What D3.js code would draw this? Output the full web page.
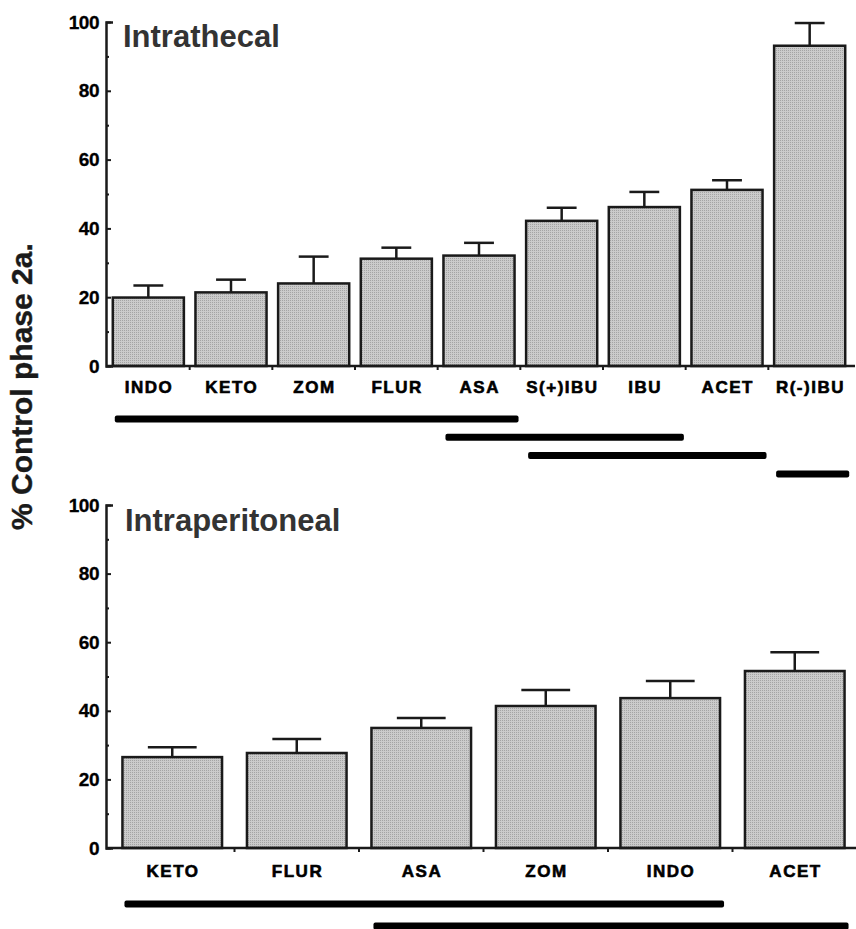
<!DOCTYPE html>
<html>
<head>
<meta charset="utf-8">
<script src="https://cdn.jsdelivr.net/npm/d3@7"></script>
<style>
  body { margin: 0; background: #fff; }
  text { font-family: "Liberation Sans", Arial, sans-serif; font-weight: bold; }
</style>
</head>
<body>
<div id="chart"></div>
<script>
// Intrathecal panel: mean % of control (phase 2a) and upper SEM
var itDrugs = ["INDO", "KETO", "ZOM", "FLUR", "ASA", "S(+)IBU", "IBU", "ACET", "R(-)IBU"];
var itMean = [19.9, 21.4, 24.0, 31.2, 32.1, 42.2, 46.2, 51.2, 93.1];
var itSem = [3.5, 3.7, 7.8, 3.2, 3.7, 3.8, 4.4, 2.8, 6.6];
// groups that do not differ: first drug -> last drug (one row each)
var itGroupStart = ["INDO", "ASA", "S(+)IBU", "R(-)IBU"];
var itGroupEnd = ["ASA", "IBU", "ACET", "R(-)IBU"];

// Intraperitoneal panel
var ipDrugs = ["KETO", "FLUR", "ASA", "ZOM", "INDO", "ACET"];
var ipMean = [26.5, 27.7, 35.0, 41.4, 43.7, 51.6];
var ipSem = [2.9, 4.1, 2.9, 4.7, 5.0, 5.5];
var ipGroupStart = ["KETO", "ASA"];
var ipGroupEnd = ["INDO", "ACET"];

var yTicks = [0, 20, 40, 60, 80, 100];
var yMinorTicks = [10, 30, 50, 70, 90];

var fullWidth = 856;
var fullHeight = 929;
var ink = "#1a1a1a";

var svg = d3.select("#chart")
  .append("svg")
  .attr("width", fullWidth)
  .attr("height", fullHeight);

// stippled grey fill like the printed bars
var defs = svg.append("defs");
var pat = defs.append("pattern")
  .attr("id", "stipple")
  .attr("width", 2)
  .attr("height", 2)
  .attr("patternUnits", "userSpaceOnUse");
pat.append("rect").attr("width", 2).attr("height", 2).attr("fill", "#cbcbcb");
pat.append("rect").attr("width", 1).attr("height", 1).attr("fill", "#a4a4a4");

// y axis title
svg.append("text")
  .attr("transform", "translate(32,530) rotate(-90)")
  .attr("font-size", 30)
  .attr("fill", ink)
  .attr("stroke", ink)
  .attr("stroke-width", 0.4)
  .text("% Control phase 2a.");

function drawPanel(cfg, drugs, mean, sem, gStart, gEnd) {
  var g = svg.append("g");

  var x = d3.scaleBand()
    .domain(drugs)
    .range(cfg.xRange)
    .paddingInner(cfg.padInner)
    .paddingOuter(cfg.padOuter);

  var y = d3.scaleLinear()
    .domain([0, 100])
    .range(cfg.yRange);

  // bars
  g.selectAll(".bar")
    .data(drugs)
    .enter()
    .append("rect")
      .attr("x", function(d) { return x(d); })
      .attr("y", function(d, i) { return y(mean[i]); })
      .attr("width", x.bandwidth())
      .attr("height", function(d, i) { return y(0) - y(mean[i]); })
      .attr("fill", "url(#stipple)")
      .attr("stroke", ink)
      .attr("stroke-width", 2.5);

  // upper error bars
  var capHalf = x.bandwidth() * cfg.capRatio / 2;
  var err = g.selectAll(".err")
    .data(drugs)
    .enter()
    .append("g");
  err.append("line")
    .attr("x1", function(d) { return x(d) + x.bandwidth() / 2; })
    .attr("x2", function(d) { return x(d) + x.bandwidth() / 2; })
    .attr("y1", function(d, i) { return y(mean[i]); })
    .attr("y2", function(d, i) { return y(mean[i] + sem[i]); })
    .attr("stroke", ink)
    .attr("stroke-width", 2.5);
  err.append("line")
    .attr("x1", function(d) { return x(d) + x.bandwidth() / 2 - capHalf; })
    .attr("x2", function(d) { return x(d) + x.bandwidth() / 2 + capHalf; })
    .attr("y1", function(d, i) { return y(mean[i] + sem[i]); })
    .attr("y2", function(d, i) { return y(mean[i] + sem[i]); })
    .attr("stroke", ink)
    .attr("stroke-width", 2.5);

  // baseline and small ticks between bars
  g.append("line")
    .attr("x1", cfg.axisX)
    .attr("x2", cfg.baselineEnd)
    .attr("y1", y(0))
    .attr("y2", y(0))
    .attr("stroke", ink)
    .attr("stroke-width", 2.5);
  g.selectAll(".sep")
    .data(drugs.slice(1))
    .enter()
    .append("line")
      .attr("x1", function(d) { return x(d) - x.step() * x.paddingInner() / 2; })
      .attr("x2", function(d) { return x(d) - x.step() * x.paddingInner() / 2; })
      .attr("y1", y(0))
      .attr("y2", y(0) + 4)
      .attr("stroke", ink)
      .attr("stroke-width", 2);

  // category labels
  var xAxis = d3.axisBottom(x).tickSize(0).tickPadding(cfg.labelPad);
  var xg = g.append("g")
    .attr("transform", "translate(0," + y(0) + ")")
    .call(xAxis);
  xg.select(".domain").remove();
  xg.selectAll("text")
    .attr("font-family", "'Liberation Sans', Arial, sans-serif")
    .attr("font-size", 17)
    .attr("letter-spacing", 1.5)
    .attr("dx", 0.75)
    .attr("fill", "#000")
    .attr("stroke", "#000")
    .attr("stroke-width", 0.6);

  // y axis, ticks pointing inward
  var yAxis = d3.axisLeft(y)
    .tickValues(yTicks)
    .tickSize(-5)
    .tickSizeOuter(-7)
    .tickPadding(7);
  var yg = g.append("g")
    .attr("transform", "translate(" + cfg.axisX + ",0)")
    .call(yAxis);
  yg.select(".domain").attr("stroke", ink).attr("stroke-width", 2.5);
  yg.selectAll(".tick line").attr("stroke", ink).attr("stroke-width", 2);
  yg.selectAll("text")
    .attr("font-family", "'Liberation Sans', Arial, sans-serif")
    .attr("font-size", 19)
    .attr("letter-spacing", -0.5)
    .attr("fill", "#000")
    .attr("stroke", "#000")
    .attr("stroke-width", 0.3);

  var yMinor = d3.axisLeft(y)
    .tickValues(yMinorTicks)
    .tickSize(-3)
    .tickFormat("");
  var ym = g.append("g")
    .attr("transform", "translate(" + cfg.axisX + ",0)")
    .call(yMinor);
  ym.select(".domain").remove();
  ym.selectAll(".tick line").attr("stroke", ink).attr("stroke-width", 2);

  // panel title
  g.append("text")
    .attr("x", cfg.titleX)
    .attr("y", cfg.titleY)
    .attr("font-size", 31)
    .attr("fill", "#333")
    .text(cfg.title);

  // lines joining groups that are not significantly different
  g.selectAll(".grp")
    .data(gStart)
    .enter()
    .append("rect")
      .attr("x", function(d) { return x(d) + 2; })
      .attr("y", function(d, i) { return cfg.lineY0 + i * cfg.lineStep - 3.5; })
      .attr("width", function(d, i) { return x(gEnd[i]) + x.bandwidth() + 4 - (x(d) + 2); })
      .attr("height", 7)
      .attr("rx", 2)
      .attr("fill", "#000");
}

drawPanel({
  title: "Intrathecal",
  axisX: 106,
  xRange: [107, 851],
  yRange: [366, 22],
  padInner: 0.14,
  padOuter: 0.07,
  capRatio: 0.42,
  baselineEnd: 855,
  labelPad: 15,
  titleX: 123,
  titleY: 47,
  lineY0: 419,
  lineStep: 18.3
}, itDrugs, itMean, itSem, itGroupStart, itGroupEnd);

drawPanel({
  title: "Intraperitoneal",
  axisX: 106,
  xRange: [110, 857],
  yRange: [848, 505],
  padInner: 0.2,
  padOuter: 0.1,
  capRatio: 0.49,
  baselineEnd: 856,
  labelPad: 17,
  titleX: 125,
  titleY: 531,
  lineY0: 904,
  lineStep: 22
}, ipDrugs, ipMean, ipSem, ipGroupStart, ipGroupEnd);
</script>
</body>
</html>
